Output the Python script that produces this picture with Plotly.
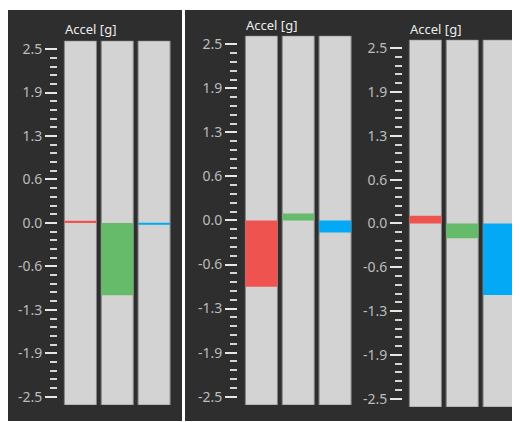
import plotly.graph_objects as go

# The page body adds an 8 px margin, so the figure is 8 px smaller and
# every pixel position below is given in page coordinates minus 8.
OFF = 8
W, H = 520 - OFF, 422 - OFF

channels = ["X", "Y", "Z"]
bar_colors = ["#ef5350", "#66bb6a", "#03a9f4"]
panel_titles = ["Accel [g]", "Accel [g]", "Accel [g]"]
panel1_values = [0.03, -1.04, -0.02]
panel2_values = [-0.94, 0.10, -0.17]
panel3_values = [0.11, -0.21, -1.02]
tick_values = [2.5, 1.875, 1.25, 0.625, 0.0, -0.625, -1.25, -1.875, -2.5]
tick_labels = ["2.5", "1.9", "1.3", "0.6", "0.0", "-0.6", "-1.3", "-1.9", "-2.5"]
y_min, y_max = -2.62, 2.62

panels = [panel1_values, panel2_values, panel3_values]
# page pixels: (x domain left, x domain right, y top, y bottom, axis x, title y)
geom = [
    (62.0, 172.5, 39, 406, 57, 27.5),
    (243.0, 353.5, 34, 406, 237, 23),
    (407.0, 517.5, 38, 408, 402, 27),
]


def px(x):
    return (x - OFF) / W


def py(y):
    return 1 - (y - OFF) / H


fig = go.Figure()
layout = dict(
    width=W, height=H, margin=dict(l=0, r=0, t=0, b=0),
    paper_bgcolor="white", plot_bgcolor="rgba(0,0,0,0)",
    showlegend=False, barmode="overlay",
    shapes=[
        dict(type="rect", xref="paper", yref="paper", x0=0, x1=px(182),
             y0=0, y1=1, fillcolor="#2e2e2e", line_width=0, layer="below"),
        dict(type="rect", xref="paper", yref="paper", x0=px(185), x1=1,
             y0=0, y1=1, fillcolor="#2e2e2e", line_width=0, layer="below"),
    ],
    annotations=[],
)

for i, (vals, g) in enumerate(zip(panels, geom)):
    n = "" if i == 0 else str(i + 1)
    xl, xr, yt, yb, ax_x, ty = g
    xa, ya = "x" + n, "y" + n
    fig.add_trace(go.Bar(
        x=[0, 1, 2], y=[y_max - y_min] * 3, base=[y_min] * 3, width=0.87,
        marker=dict(color="#d3d3d3", line=dict(color="#858585", width=1)),
        xaxis=xa, yaxis=ya, hoverinfo="skip"))
    fig.add_trace(go.Bar(
        x=[0, 1, 2], y=vals, base=[0, 0, 0], width=0.87,
        marker=dict(color=bar_colors, line=dict(width=0)),
        xaxis=xa, yaxis=ya, name=panel_titles[i]))
    layout["xaxis" + n] = dict(
        domain=[px(xl), min(px(xr), 1.0)], range=[-0.5, 2.5], visible=False,
        anchor=ya, fixedrange=True)
    layout["yaxis" + n] = dict(
        domain=[py(yb), py(yt)], range=[y_min, y_max],
        anchor="free", position=px(ax_x), side="left",
        showgrid=False, zeroline=False, showline=False,
        tickmode="array", tickvals=tick_values, ticktext=tick_labels,
        ticks="outside", ticklen=12, tickwidth=2, tickcolor="#e6e6e6",
        tickfont=dict(family="Noto Sans", size=14, color="#bcbcbc"),
        minor=dict(tickmode="linear", tick0=0, dtick=0.125, ticks="outside",
                   ticklen=7, tickwidth=1.5, tickcolor="#d6d6d6", showgrid=False),
        fixedrange=True)
    layout["annotations"].append(dict(
        text=panel_titles[i], xref="paper", yref="paper",
        x=px(xl + 1), y=py(ty), xanchor="left", yanchor="middle",
        showarrow=False, font=dict(family="Noto Sans", size=13, color="#ececec")))

fig.update_layout(**layout)
fig.write_html("out.html")
